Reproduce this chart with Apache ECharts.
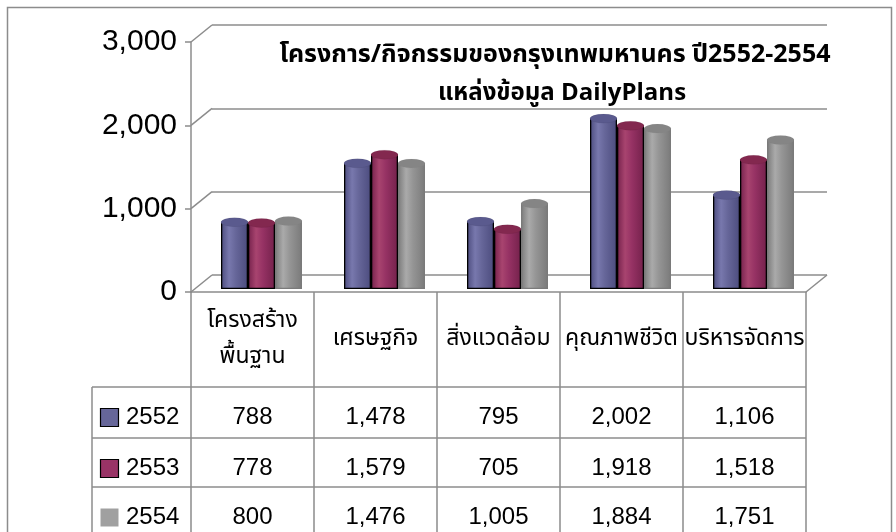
<!DOCTYPE html>
<html>
<head>
<meta charset="utf-8">
<script src="https://cdn.jsdelivr.net/npm/echarts@6/dist/echarts.min.js"></script>
<style>
html, body { margin: 0; padding: 0; background: #fff; }
#chart { width: 896px; height: 532px; }
</style>
</head>
<body>
<div id="chart"></div>
<script>
// ข้อมูล
const categories = ['โครงสร้าง\nพื้นฐาน', 'เศรษฐกิจ', 'สิ่งแวดล้อม', 'คุณภาพชีวิต', 'บริหารจัดการ'];
const years = ['2552', '2553', '2554'];
const values2552 = [788, 1478, 795, 2002, 1106];
const values2553 = [778, 1579, 705, 1918, 1518];
const values2554 = [800, 1476, 1005, 1884, 1751];
const yTicks = [0, 1000, 2000, 3000];
const titleLine1 = 'โครงการ/กิจกรรมของกรุงเทพมหานคร ปี2552-2554';
const titleLine2 = 'แหล่งข้อมูล DailyPlans';

const seriesValues = [values2552, values2553, values2554];

// styles
const thaiFont = "'Noto Sans Thai', 'Noto Sans Thai UI', 'Noto Sans', 'DejaVu Sans', sans-serif";
const numFont = "'Liberation Sans', Arial, sans-serif";
const lineGray = '#8c8c8c';
const palette = [
    { edge: '#4c4c7e', mid: '#666699', light: '#7878ad', cap: '#5a5a8e', border: '#000' },
    { edge: '#74214b', mid: '#963264', light: '#a8446f', cap: '#83284f', border: '#000' },
    { edge: '#7a7a7a', mid: '#959595', light: '#aaaaaa', cap: '#858585', border: '#7a7a7a' }
];
const swatch = ['#666699', '#993366', '#a0a0a0'];

const front = { left: 191, top: 42, width: 615, height: 250 };
const back = { left: 212, top: 25, width: 615, height: 250 };
const barG = { left: 200, top: 33, width: 615, height: 256 };
const barW = 27;
const rowLines = [387, 438, 487];

function cylinder(p) {
    return new echarts.graphic.LinearGradient(0, 0, 1, 0, [
        { offset: 0, color: p.edge },
        { offset: 0.3, color: p.light },
        { offset: 0.55, color: p.mid },
        { offset: 1, color: p.edge }
    ]);
}

const chart = echarts.init(document.getElementById('chart'));

const hiddenCat = { type: 'category', data: categories, show: false };
const hiddenVal = { type: 'value', min: 0, max: 3000, interval: 1000, show: false };

const barSeries = years.map((y, i) => ({
    name: y,
    type: 'bar',
    xAxisIndex: 2,
    yAxisIndex: 2,
    data: seriesValues[i],
    barWidth: barW,
    barGap: '0%',
    itemStyle: { color: cylinder(palette[i]), borderColor: palette[i].border, borderWidth: 1.3 },
    z: 3
}));

const capSeries = years.map((y, i) => ({
    name: y + '-cap',
    type: 'pictorialBar',
    xAxisIndex: 2,
    yAxisIndex: 2,
    data: seriesValues[i],
    symbol: 'circle',
    symbolSize: [barW, 9],
    symbolPosition: 'end',
    symbolOffset: [(i - 1) * barW, '-50%'],
    itemStyle: { color: palette[i].cap, borderColor: palette[i].border, borderWidth: 1.3 },
    z: 4 + i
}));

chart.setOption({
    animation: false,
    backgroundColor: '#fff',
    grid: [
        Object.assign({}, front),
        Object.assign({}, back),
        Object.assign({}, barG)
    ],
    xAxis: [
        {
            type: 'category',
            gridIndex: 0,
            data: categories,
            axisLine: { lineStyle: { color: lineGray, width: 1.5 } },
            axisTick: { show: true, length: 250, lineStyle: { color: lineGray, width: 1.5 } },
            axisLabel: {
                interval: 0,
                margin: 48,
                verticalAlign: 'middle',
                fontFamily: thaiFont,
                fontSize: 23,
                lineHeight: 36,
                color: '#000'
            }
        },
        Object.assign({ gridIndex: 1 }, hiddenCat),
        Object.assign({ gridIndex: 2 }, hiddenCat)
    ],
    yAxis: [
        {
            type: 'value',
            gridIndex: 0,
            min: 0,
            max: 3000,
            interval: 1000,
            axisLine: { show: true, lineStyle: { color: lineGray, width: 1.5 } },
            axisTick: { show: true, length: 6, lineStyle: { color: lineGray, width: 1.5 } },
            splitLine: { show: false },
            axisLabel: {
                fontFamily: numFont,
                fontSize: 30,
                color: '#000',
                margin: 14,
                formatter: v => v.toLocaleString('en-US')
            }
        },
        {
            type: 'value',
            gridIndex: 1,
            min: 0,
            max: 3000,
            interval: 1000,
            axisLine: { show: false },
            axisTick: { show: false },
            axisLabel: { show: false },
            splitLine: { show: true, lineStyle: { color: lineGray, width: 1.5 } }
        },
        Object.assign({ gridIndex: 2 }, hiddenVal)
    ],
    series: barSeries.concat(capSeries)
});

// 3D frame, title and data table, placed from the axes
const yFront = v => chart.convertToPixel({ yAxisIndex: 0 }, v);
const yBack = v => chart.convertToPixel({ yAxisIndex: 1 }, v);
const xCol = c => chart.convertToPixel({ xAxisIndex: 0 }, c);
const rightX = front.left + front.width;
const tableLeft = 92;
const line = (x1, y1, x2, y2) => ({
    type: 'line',
    shape: { x1: x1, y1: y1, x2: x2, y2: y2 },
    style: { stroke: lineGray, lineWidth: 1.5 },
    z: 1
});

const elements = [];
elements.push({
    type: 'rect',
    shape: { x: 7.5, y: 7.5, width: 884, height: 560 },
    style: { fill: null, stroke: lineGray, lineWidth: 1.5 },
    z: 0
});
yTicks.forEach(t => elements.push(line(front.left, yFront(t), back.left, yBack(t))));
elements.push(line(rightX, yFront(0), back.left + back.width, yBack(0)));

elements.push({
    type: 'text',
    style: { text: titleLine1, x: 555, y: 57, align: 'center', verticalAlign: 'middle',
        font: 'bold 25px ' + thaiFont, fill: '#000' },
    z: 10
});
elements.push({
    type: 'text',
    style: { text: titleLine2, x: 562, y: 95, align: 'center', verticalAlign: 'middle',
        font: 'bold 24px ' + thaiFont, fill: '#000' },
    z: 10
});

// table grid
rowLines.forEach(y => elements.push(line(tableLeft, y, rightX, y)));
elements.push(line(tableLeft, rowLines[0], tableLeft, 540));

years.forEach((y, i) => {
    const cy = rowLines[i] + 30.5;
    elements.push({
        type: 'rect',
        shape: { x: 100.5, y: cy - 9, width: 18, height: 18 },
        style: { fill: swatch[i], stroke: i < 2 ? '#000' : null, lineWidth: 1.2 },
        z: 5
    });
    elements.push({
        type: 'text',
        style: { text: y, x: 126, y: cy, verticalAlign: 'middle', font: '24px ' + numFont, fill: '#000' },
        z: 5
    });
    seriesValues[i].forEach((v, j) => {
        elements.push({
            type: 'text',
            style: { text: v.toLocaleString('en-US'), x: xCol(categories[j]), y: cy, align: 'center',
                verticalAlign: 'middle', font: '24px ' + numFont, fill: '#000' },
            z: 5
        });
    });
});

chart.setOption({ graphic: { elements: elements } });
</script>
</body>
</html>
